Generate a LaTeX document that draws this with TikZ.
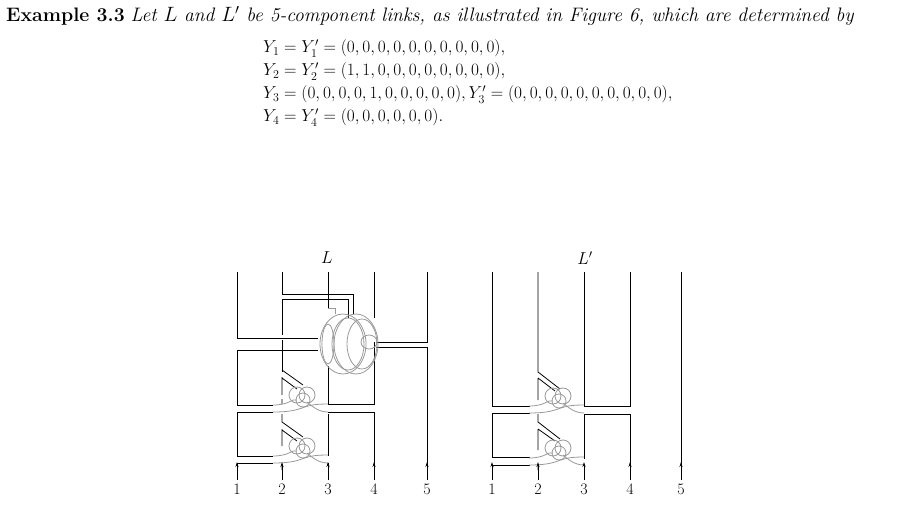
\documentclass[tikz,border=0pt]{standalone}
\usetikzlibrary{arrows.meta}
\begin{document}
\begin{tikzpicture}[x=1pt,y=-1pt,
  k/.style={black,line width=0.8pt},
  g/.style={gray!80,line width=0.8pt},
  ar/.style={-{Stealth[length=5pt,width=3pt]},line width=0.8pt},
  lab/.style={inner sep=0pt},
  clasp/.pic={
    \draw[g] (-5,-2) circle (8);
    \draw[g] (5,-2) circle (8);
    \draw[g] (1,3) circle (7);
    \draw[g] (-29,8) .. controls (-12,8) and (-10,1) .. (-5,3);
    \draw[g] (5,5) .. controls (10,9) and (16,15) .. (26,15);
    \draw[g] (-29,15) .. controls (-12,15) and (-6,13) .. (0,11) .. controls (8,8) and (14,7) .. (26,7);
  }]
\useasboundingbox (0,0) rectangle (900,516);
\node[anchor=base west,lab,font=\fontsize{19.5}{24}\selectfont] (t) at (6,22) {\textbf{Example 3.3} \itshape Let $L$ and $L'$ be 5-component links, as illustrated in Figure 6, which are determined by};
\begin{scope}[every node/.append style={font=\fontsize{16.5}{20}\selectfont}]
\node[anchor=base west,lab] (e1) at (263,53) {$Y_1=Y_1'=(0,0,0,0,0,0,0,0,0,0),$};
\node[anchor=base west,lab] (e2) at (263,76) {$Y_2=Y_2'=(1,1,0,0,0,0,0,0,0,0),$};
\node[anchor=base west,lab] (e3) at (263,99) {$Y_3=(0,0,0,0,1,0,0,0,0,0),Y_3'=(0,0,0,0,0,0,0,0,0,0),$};
\node[anchor=base west,lab] (e4) at (263,122) {$Y_4=Y_4'=(0,0,0,0,0,0).$};
\node[lab] (L) at (327,258) {$L$};
\node[lab] (Lp) at (585,258) {$L'$};
\end{scope}
% ---------- left link ----------
\draw[k] (237,272)--(237,338)--(318,338);
\draw[k] (282,272)--(282,294)--(353,294)--(353,314);
\draw[k] (282,299)--(348,299)--(348,318);
\draw[k] (282,299)--(282,335) (282,340)--(282,372);
\draw[k] (282,370)--(303,385) (282,377)--(282,395) (282,378)--(297,389);
\draw[k] (328,272)--(328,308);
\draw[g] (328,308)--(335,308)--(335,314);
\draw[k] (328,366)--(328,404)--(374,404)--(374,342);
\draw[k] (374,272)--(374,318);
\draw[k] (427,272)--(427,342)--(376,342);
\draw[k] (376,347)--(427,347)--(427,470);
\draw[k] (318,350)--(237,350)--(237,405)--(273,405);
\draw[k] (273,412)--(237,412)--(237,456)--(273,456);
\draw[k] (273,463)--(237,463)--(237,470);
\draw[k] (328,412)--(374,412)--(374,470);
\draw[k] (328,414)--(328,456) (328,463)--(328,470);
\draw[k] (282,399)--(282,404) (282,414)--(282,422)--(303,437) (282,429)--(282,446) (282,430)--(297,441) (282,466)--(282,470);
\pic at (302,397) {clasp};
\pic at (302,448) {clasp};
% big rings
\draw[g] (328,344) ellipse (6 and 20);
\draw[g] (343,344) ellipse (23 and 30);
\draw[g] (348,344) ellipse (16 and 26);
\draw[g] (356,344) ellipse (22 and 30);
\draw[g] (362,344) ellipse (15 and 25);
\draw[g] (369,342) ellipse (8 and 7);
% ---------- right link ----------
\draw[k] (492,272)--(492,406)--(530,406);
\draw[k] (538,272)--(538,372)--(560,389) (538,378)--(555,391) (538,378)--(538,400) (538,414)--(538,422)--(560,439) (538,429)--(555,441) (538,429)--(538,450) (538,466)--(538,470);
\draw[k] (584,272)--(584,406)--(630,406)--(630,272);
\draw[k] (584,414)--(630,414)--(630,470);
\draw[k] (584,414)--(584,459) (584,465)--(584,470);
\draw[k] (530,413)--(492,413)--(492,457)--(530,457);
\draw[k] (530,465)--(492,465)--(492,470);
\draw[k] (681,272)--(681,470);
\pic at (558,398) {clasp};
\pic at (558,450) {clasp};
% arrows and numbers
\foreach \x/\n [count=\i] in {237/1,282/2,328/3,374/4,427/5,492/1,538/2,584/3,630/4,681/5}{
  \draw[ar] (\x,480)--(\x,462);
  \node[lab,font=\fontsize{16}{19}\selectfont] (n\i) at (\x,489) {\n};
}
\end{tikzpicture}
\end{document}
